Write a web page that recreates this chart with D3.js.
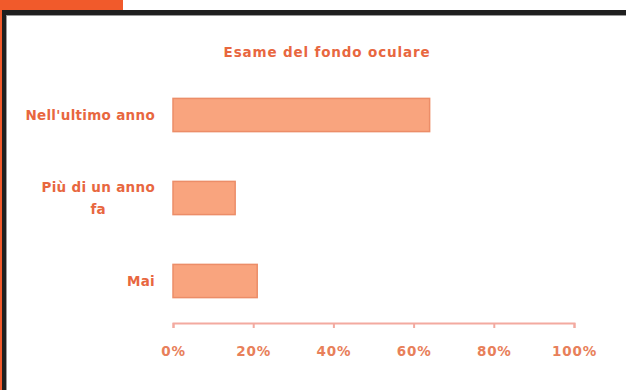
<!DOCTYPE html>
<html lang="it">
<head>
<meta charset="UTF-8">
<title>Esame del fondo oculare</title>
<script src="https://d3js.org/d3.v7.min.js"></script>
<style>
    body { margin: 0; padding: 0; background: #fff; }
    svg { display: block; font-family: 'DejaVu Sans', sans-serif; }
    .lab { fill: #e8673f; font-weight: bold; font-size: 13.5px; letter-spacing: 0.3px; }
    .title { fill: #e8673f; font-weight: bold; font-size: 13.5px; letter-spacing: 0.85px; }
    .axis text { fill: #e8805a; font-weight: bold; font-size: 13.5px; letter-spacing: 0.8px; font-family: 'DejaVu Sans', sans-serif; }
    .axis path, .axis line { stroke: #f3aaa0; stroke-width: 2; }
</style>
</head>
<body>
<div id="chart"></div>
<script>
const categories = ["Nell'ultimo anno", "Più di un anno fa", "Mai"];
const labelLines = [["Nell'ultimo anno"], ["Più di un anno", "fa"], ["Mai"]];
const values = [0.64, 0.155, 0.21];
const tickValues = [0, 0.2, 0.4, 0.6, 0.8, 1];
const title = "Esame del fondo oculare";

const W = 626, H = 390;
const svg = d3.select("#chart").append("svg").attr("width", W).attr("height", H);

// frame: orange tab, dark border
svg.append("rect").attr("x", 0).attr("y", 0).attr("width", 123).attr("height", 11).attr("fill", "#f15a2b");
svg.append("rect").attr("x", 0).attr("y", 0).attr("width", 2).attr("height", H).attr("fill", "#f15a2b");
svg.append("rect").attr("x", 2).attr("y", 10).attr("width", W).attr("height", 5).attr("fill", "#1f1f1f");
svg.append("rect").attr("x", 6).attr("y", 15).attr("width", W).attr("height", 1).attr("fill", "#9a9a9a");
svg.append("rect").attr("x", 2).attr("y", 10).attr("width", 4).attr("height", H - 10).attr("fill", "#1f1f1f");
svg.append("rect").attr("x", 6).attr("y", 15).attr("width", 1).attr("height", H - 15).attr("fill", "#9a9a9a");

const x = d3.scaleLinear().domain([0, 1]).range([173, 574]);
const y = d3.scaleBand().domain(categories).range([73.5, 322.5]).paddingInner(0.6).paddingOuter(0.3);

svg.append("text").attr("class", "title").attr("x", 327).attr("y", 57)
    .attr("text-anchor", "middle").text(title);

svg.selectAll(".bar").data(values).enter().append("rect")
    .attr("class", "bar")
    .attr("x", x(0))
    .attr("y", (d, i) => y(categories[i]))
    .attr("width", d => x(d) - x(0))
    .attr("height", y.bandwidth())
    .attr("fill", "#f9a47e")
    .attr("stroke", "#ec8d68")
    .attr("stroke-width", 1.5);

// category labels, multi-line ones centred on their widest line
const labelRight = 155;
labelLines.forEach((lines, i) => {
    const cy = y(categories[i]) + y.bandwidth() / 2;
    const g = svg.append("g");
    const lh = 22;
    const ts = lines.map((l, j) => g.append("text").attr("class", "lab")
        .attr("y", cy + (j - (lines.length - 1) / 2) * lh + 5).text(l));
    const maxW = d3.max(ts, t => t.node().getComputedTextLength());
    ts.forEach(t => t.attr("x", labelRight - maxW / 2).attr("text-anchor", "middle"));
});

const axis = svg.append("g").attr("class", "axis")
    .attr("transform", "translate(0,323)")
    .call(d3.axisBottom(x).tickValues(tickValues).tickFormat(d3.format(".0%")).tickSize(5).tickSizeOuter(5).tickPadding(18));
axis.selectAll("text").attr("dy", "0.71em");
</script>
</body>
</html>
